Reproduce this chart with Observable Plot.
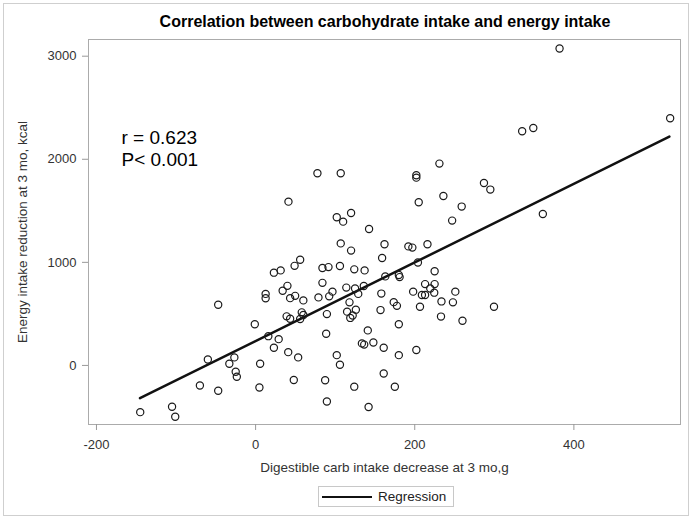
<!DOCTYPE html>
<html>
<head>
<meta charset="utf-8">
<script src="https://cdn.jsdelivr.net/npm/d3@7"></script>
<script src="https://cdn.jsdelivr.net/npm/@observablehq/plot@0.6"></script>
<style>
  html, body { margin: 0; padding: 0; background: #fff; }
  #wrap { position: relative; width: 694px; height: 522px; font-family: "Liberation Sans", Arial, sans-serif; }
  #border { position: absolute; left: 3px; top: 3px; width: 686px; height: 513px; border: 1px solid #cfcfcf; box-sizing: border-box; pointer-events: none; }
  #title { height: 30px; box-sizing: border-box; padding-top: 13px; line-height: 18px; font-size: 16px; font-weight: bold; text-align: center; color: #000; padding-left: 76px; }
  #chart svg { display: block; }
  #legend { margin: 6px 0 0 318px; width: 136px; height: 21px; box-sizing: border-box; border: 1px solid #c8c8c8; display: flex; align-items: center; font-size: 13.5px; color: #222; }
  #legend .sw { width: 50px; height: 0; border-top: 2.5px solid #111; margin: 0 6px 0 3px; }
</style>
</head>
<body>
<div id="wrap">
  <div id="border"></div>
  <div id="title"></div>
  <div id="chart"></div>
  <div id="legend"><span class="sw"></span><span id="legtext"></span></div>
</div>
<script>
// Data
const carbDecrease = [77.7, 41.3, 382, 521, 335, 349, 107, 231, 202, 202, 287, 295, 236, 205, 259, 361, 247, 102, 110, 120,
  142.6, 107, 120, 162, 192, 197, 216, 159, 204, 56, 84, 91.6, 106, 124, 137, 225, 163, 180, 181, 84,
  114, 125, 136, 96.6, 92.5, 79, 60, 129, 158, 213, 225, 219.5, 198, 224.5, 209, 213, 251, 118, 173.6, 177.6,
  157, 115, 126, 122, 119, 206.6, 299.6, 233.6, 248, 233, 260, 89.6, 88.7, 141, 180, 133.6, 136.5, 148, 161, 202,
  102, 106, 180, 161, 87.4, 124, 175, 89.6, 142, -47, 23, 31.5, 49, 12.6, 12.6, 34, 40, 43.4, 49.7, 39,
  43.4, 56, 58, 60, -1, 16, 29, 23, 41, 53.5, -60, -26.7, -33, -25, -23.6, 5.7, 4.8, 48, -70, -47,
  -145, -105, -101];
const energyReduction = [1864, 1589, 3075, 2398, 2272, 2304, 1864, 1958, 1845, 1822, 1770, 1706, 1644, 1583, 1541, 1469, 1405, 1437, 1395, 1479,
  1323, 1184, 1114, 1175, 1155, 1143, 1175, 1042, 998, 1026, 945, 954, 964, 932, 922, 913, 864, 877, 857, 801,
  755, 746, 770, 716, 670, 660, 631, 694, 697, 789, 789, 746, 716, 706, 683, 683, 716, 612, 614, 578,
  537, 522, 541, 485, 461, 570, 570, 621, 612, 474, 434, 498, 308, 340, 400, 214, 202, 223, 172, 150,
  100, 7, 100, -78, -143, -206, -207, -350, -403, 589, 900, 922, 966, 694, 652, 725, 772, 653, 675, 476,
  453, 451, 515, 490, 400, 284, 255, 172, 129, 78, 58, 78, 17, -61, -110, 17, -214, -141, -194, -246,
  -453, -401, -498];
// Regression line ends as drawn in the reference
const regX = [-145.3, 520];
const regY = [-317, 2220];
const xTicks = [-200, 0, 200, 400];
const yTicks = [0, 1000, 2000, 3000];
const titleText = "Correlation between carbohydrate intake and energy intake";
const xLabel = "Digestible carb intake decrease at 3 mo,g";
const yLabel = "Energy intake reduction at 3 mo, kcal";
const statsText = ["r = 0.623", "P< 0.001"];
const legendLabel = "Regression";

const points = carbDecrease.map((x, i) => ({x, y: energyReduction[i]}));
const reg = regX.map((x, i) => ({x, y: regY[i]}));

document.getElementById("title").textContent = titleText;
document.getElementById("legtext").textContent = legendLabel;

const chart = Plot.plot({
  width: 694,
  height: 450,
  marginLeft: 88,
  marginRight: 14,
  marginTop: 9,
  marginBottom: 56,
  style: {fontFamily: "'Liberation Sans', Arial, sans-serif", fontSize: "13px", background: "transparent", color: "#333"},
  x: {domain: [-210, 534]},
  y: {domain: [-573, 3162]},
  marks: [
    Plot.frame({stroke: "#ababab"}),
    Plot.axisX({ticks: xTicks, tickSize: 6, tickPadding: 9, stroke: "#999", fill: "#333", tickFormat: d => String(d),
      fontSize: 13, label: null}),
    Plot.axisX({ticks: [], label: xLabel, labelAnchor: "center", labelArrow: "none", labelOffset: 47, fontSize: 13.5, fill: "#333"}),
    Plot.axisY({ticks: yTicks, tickSize: 6, tickPadding: 6, stroke: "#999", fill: "#333", tickFormat: d => String(d),
      fontSize: 13, label: null}),
    Plot.axisY({ticks: [], label: yLabel, labelAnchor: "center", labelArrow: "none", labelOffset: 71, fontSize: 13.5, fill: "#333"}),
    Plot.line(reg, {x: "x", y: "y", stroke: "#111", strokeWidth: 2.5}),
    Plot.dot(points, {x: "x", y: "y", r: 3.6, stroke: "#1a1a1a", strokeWidth: 1.2, fill: "none"}),
    Plot.text([statsText.join("\n")], {text: d => d, frameAnchor: "top-left", textAnchor: "start", lineAnchor: "top",
      dx: 33, dy: 89, fontSize: 19, lineHeight: 1.14, fill: "#000"})
  ]
});
document.getElementById("chart").appendChild(chart);
</script>
</body>
</html>
